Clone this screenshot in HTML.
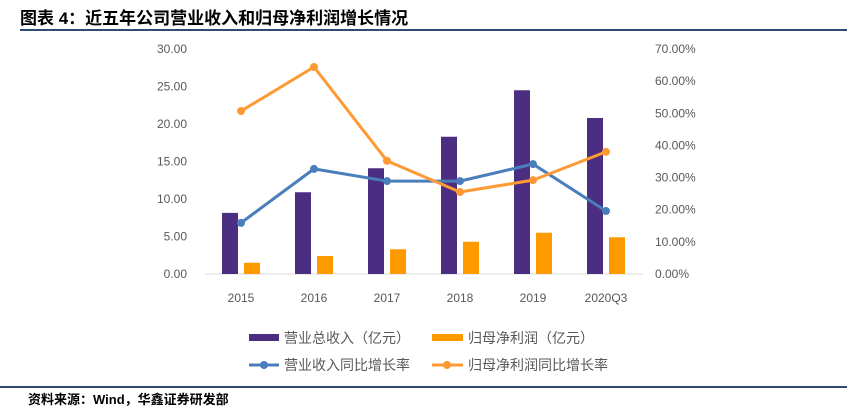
<!DOCTYPE html>
<html><head><meta charset="utf-8"><style>
body{margin:0;background:#fff;width:847px;height:411px;overflow:hidden;font-family:"Liberation Sans","Noto Sans CJK SC",sans-serif}
</style></head><body>
<svg id="c" width="847" height="411" style="position:absolute;left:0;top:0">
<text x="20" y="24" font-size="17" font-weight="bold" fill="#000">图表 4：近五年公司营业收入和归母净利润增长情况</text>
<rect x="20" y="29" width="827" height="2" fill="#2f4a74"/>
<rect x="0" y="386" width="847" height="2" fill="#2f4a74"/>
<text x="28" y="404" font-size="13" font-weight="bold" fill="#000">资料来源：Wind，华鑫证券研发部</text>
<g id="plot"></g>
<g font-size="14" fill="#595959">
<rect x="249" y="334" width="30" height="7" fill="#4b2d82"/>
<text x="284" y="343">营业总收入（亿元）</text>
<rect x="432" y="334" width="31" height="7" fill="#ff9900"/>
<text x="468" y="343">归母净利润（亿元）</text>
<line x1="249" y1="365" x2="279" y2="365" stroke="#4a7ebb" stroke-width="3"/>
<circle cx="264" cy="365" r="4" fill="#4a7ebb"/>
<text x="284" y="370">营业收入同比增长率</text>
<line x1="432" y1="365" x2="463" y2="365" stroke="#ff9933" stroke-width="3"/>
<circle cx="447" cy="365" r="4" fill="#ff9933"/>
<text x="468" y="370">归母净利润同比增长率</text>
</g>
</svg>
<script>
const categories=["2015","2016","2017","2018","2019","2020Q3"];
const revenue=[8.15,10.9,14.1,18.3,24.5,20.8];
const profit=[1.5,2.4,3.3,4.3,5.5,4.9];
const revenueGrowth=[15.9,32.7,28.9,28.9,34.2,19.6];
const profitGrowth=[50.7,64.4,35.2,25.5,29.2,38.0];
const leftTicks=[0,5,10,15,20,25,30];
const rightTicks=[0,10,20,30,40,50,60,70];
const NS="http://www.w3.org/2000/svg";
const g=document.getElementById('plot');
const y0=274,y1=49;
const yL=v=>y0-(v/30)*(y0-y1);
const yR=v=>y0-(v/70)*(y0-y1);
const xC=i=>241+i*73;
function mk(t,a){const e=document.createElementNS(NS,t);for(const k in a)e.setAttribute(k,a[k]);g.appendChild(e);return e;}
leftTicks.forEach(v=>{const t=mk('text',{x:187,y:yL(v)+4,'text-anchor':'end','font-size':12,fill:'#595959'});t.textContent=v.toFixed(2);

});
rightTicks.forEach(v=>{const t=mk('text',{x:655,y:yR(v)+4,'font-size':12,fill:'#595959'});t.textContent=v.toFixed(2)+'%';

});
const ax=mk('line',{x1:205,x2:643,y1:y0,y2:y0,stroke:'#d9d9d9','stroke-width':1});


categories.forEach((c,i)=>{
const t=mk('text',{x:xC(i),y:302,'text-anchor':'middle','font-size':12,fill:'#595959'});t.textContent=c;


const b=mk('rect',{x:xC(i)-19,y:yL(revenue[i]),width:16,height:y0-yL(revenue[i]),fill:'#4b2d82'});


const p=mk('rect',{x:xC(i)+3,y:yL(profit[i]),width:16,height:y0-yL(profit[i]),fill:'#ff9900'});


});
function line(data,col,name){
const l=mk('polyline',{points:data.map((v,i)=>xC(i)+','+yR(v)).join(' '),fill:'none',stroke:col,'stroke-width':3,'stroke-linejoin':'round'});


data.forEach((v,i)=>{const c=mk('circle',{cx:xC(i),cy:yR(v),r:4,fill:col});

});
}
line(revenueGrowth,'#4a7ebb','revenue-growth');
line(profitGrowth,'#ff9933','profit-growth');
</script>
</body></html>
